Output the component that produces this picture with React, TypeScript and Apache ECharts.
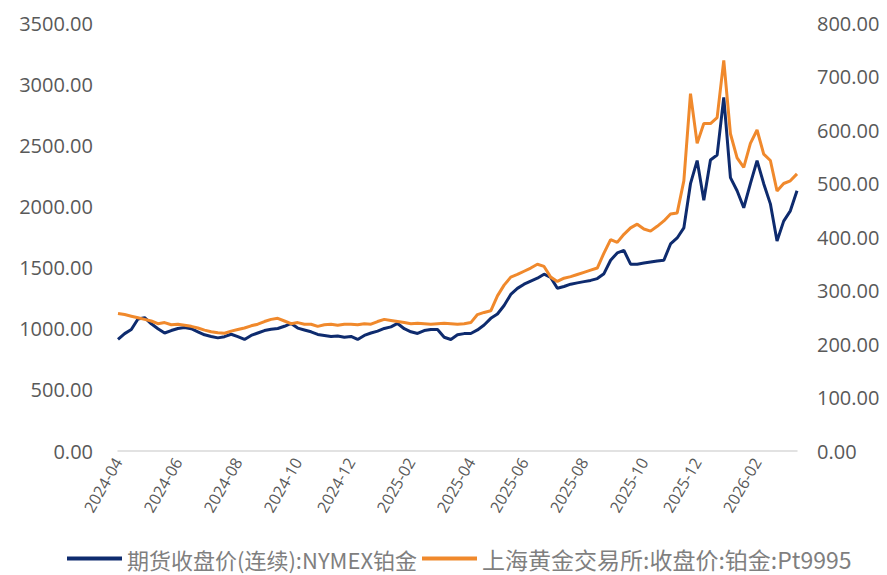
import React, { useEffect, useRef } from "react";
import * as echarts from "echarts";

// weekly observation dates (Mondays) starting 2024-04-01
const START_DATE = "2024-04-01";
const WEEK_COUNT = 103;

// 期货收盘价(连续):NYMEX铂金 (left axis)
const nymexPlatinum = [
  912, 960, 994, 1080, 1090, 1040, 1000, 965, 985, 1002,
  1010, 1000, 975, 950, 937, 925, 935, 955, 935, 912,
  945, 965, 985, 995, 1002, 1020, 1043, 1005, 990, 975,
  953, 945, 937, 940, 930, 937, 912, 945, 965, 980,
  1002, 1015, 1043, 1000, 975, 961, 985, 994, 994, 930,
  912, 950, 960, 961, 990, 1030, 1085, 1120, 1190, 1280,
  1330, 1364, 1390, 1413, 1446, 1420, 1331, 1345, 1364, 1375,
  1385, 1395, 1410, 1450, 1560, 1620, 1640, 1528, 1528, 1537,
  1545, 1553, 1560, 1693, 1742, 1824, 2186, 2375, 2050, 2380,
  2420, 2892, 2235, 2128, 1989, 2186, 2375, 2186, 2021, 1717,
  1880, 1964, 2128,
];

// 上海黄金交易所:收盘价:铂金:Pt9995 (right axis)
const sgePt9995 = [
  257, 255, 252, 249, 246, 243, 238, 240, 236, 237,
  235, 233, 230, 226, 223, 221, 220, 224, 227, 230,
  234, 237, 242, 246, 248, 243, 238, 240, 237, 237,
  233, 236, 237, 235, 237, 237, 236, 238, 237, 242,
  246, 244, 242, 240, 238, 239, 238, 237, 238, 239,
  238, 237, 238, 240, 255, 259, 262, 290, 310, 325,
  330, 336, 342, 349, 345, 325, 317, 323, 326, 330,
  334, 338, 342, 370, 395, 390, 405, 417, 424, 415,
  411, 420, 430, 443, 445, 505, 668, 575, 612, 612,
  623, 730, 593, 548, 530, 575, 600, 555, 543, 486,
  500, 505, 518,
];

const seriesNames = ["期货收盘价(连续):NYMEX铂金", "上海黄金交易所:收盘价:铂金:Pt9995"];
const seriesColors = ["#0e2b6e", "#f0892c"];

function buildDates(): string[] {
  const out: string[] = [];
  const t0 = Date.parse(START_DATE + "T00:00:00Z");
  for (let i = 0; i < WEEK_COUNT; i++) {
    out.push(new Date(t0 + i * 7 * 86400000).toISOString().slice(0, 10));
  }
  return out;
}

export default function App() {
  const ref = useRef<HTMLDivElement>(null);
  useEffect(() => {
    if (!ref.current) return;
    const chart = echarts.init(ref.current, null, { renderer: "svg" });
    const dates = buildDates();
    const labelFont = "'Open Sans', sans-serif";
    const isTick = (idx: number, val: string) => {
      const m = parseInt(val.slice(5, 7), 10);
      const d = parseInt(val.slice(8, 10), 10);
      return m % 2 === 0 && d <= 7;
    };
    chart.setOption({
      animation: false,
      backgroundColor: "#ffffff",
      grid: { left: 118, right: 90, top: 23, bottom: 124, containLabel: false },
      legend: {
        bottom: 0,
        left: 62,
        itemWidth: 55,
        itemHeight: 4,
        itemGap: 5,
        icon: "rect",
        textStyle: { fontSize: 22, color: "#7f7f7f", fontFamily: "'Noto Sans CJK SC', sans-serif" },
        data: [
          { name: seriesNames[0], textStyle: { fontSize: 22 } },
          { name: seriesNames[1], textStyle: { fontSize: 23 } },
        ],
      },
      xAxis: {
        type: "category",
        data: dates,
        boundaryGap: false,
        axisLine: { show: true, lineStyle: { color: "#d9d9d9", width: 1.5 } },
        axisTick: { show: false },
        splitLine: { show: false },
        axisLabel: {
          interval: isTick,
          rotate: 60,
          margin: 8,
          color: "#595959",
          fontSize: 16,
          fontFamily: labelFont,
          formatter: (v: string) => v.slice(0, 7),
        },
      },
      yAxis: [
        {
          type: "value",
          min: 0,
          max: 3500,
          interval: 500,
          axisLine: { show: false },
          axisTick: { show: false },
          splitLine: { show: false },
          axisLabel: {
            margin: 25,
            color: "#595959",
            fontSize: 20,
            fontFamily: labelFont,
            formatter: (v: number) => v.toFixed(2),
          },
        },
        {
          type: "value",
          min: 0,
          max: 800,
          interval: 100,
          position: "right",
          axisLine: { show: false },
          axisTick: { show: false },
          splitLine: { show: false },
          axisLabel: {
            margin: 20,
            color: "#595959",
            fontSize: 20,
            fontFamily: labelFont,
            formatter: (v: number) => v.toFixed(2),
          },
        },
      ],
      series: [
        {
          name: seriesNames[0],
          type: "line",
          yAxisIndex: 0,
          data: nymexPlatinum,
          showSymbol: false,
          symbol: "none",
          lineStyle: { color: seriesColors[0], width: 3 },
          itemStyle: { color: seriesColors[0] },
          z: 2,
        },
        {
          name: seriesNames[1],
          type: "line",
          yAxisIndex: 1,
          data: sgePt9995,
          showSymbol: false,
          symbol: "none",
          lineStyle: { color: seriesColors[1], width: 3 },
          itemStyle: { color: seriesColors[1] },
          z: 3,
        },
      ],
    });
    return () => chart.dispose();
  }, []);
  return (
    <div
      ref={ref}
      style={{ position: "absolute", left: 0, top: 0, width: 887, height: 575, background: "#fff" }}
    />
  );
}
